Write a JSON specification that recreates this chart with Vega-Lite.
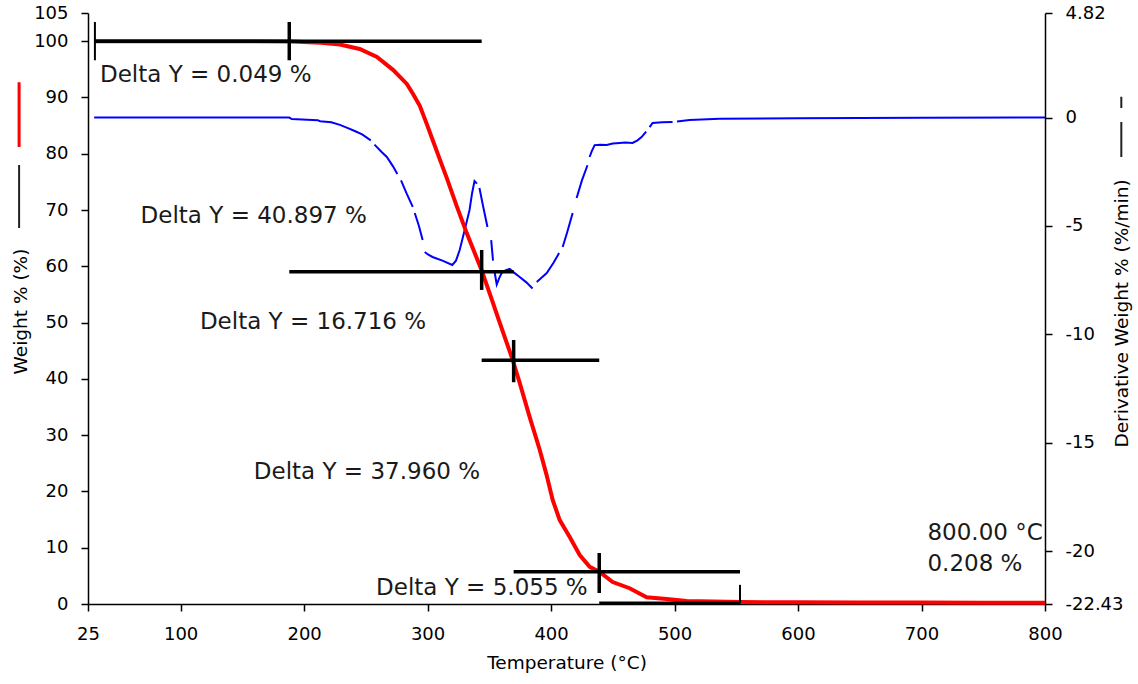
{
  "$schema": "https://vega.github.io/schema/vega-lite/v6.json",
  "width": 957,
  "height": 591,
  "autosize": {"type": "none"},
  "padding": {"left": 88, "top": 13, "right": 93, "bottom": 80},
  "background": "#ffffff",
  "config": {
    "view": {"stroke": null},
    "font": "DejaVu Sans",
    "axis": {
      "grid": false,
      "domainColor": "#000000",
      "domainWidth": 1.5,
      "tickColor": "#000000",
      "tickWidth": 1.5,
      "tickSize": 7,
      "labelColor": "#000000",
      "labelFont": "DejaVu Sans",
      "labelFontSize": 18,
      "labelFlush": false,
      "labelOverlap": false,
      "labelPadding": 13,
      "titleColor": "#000000",
      "titleFont": "DejaVu Sans",
      "titleFontSize": 18.5,
      "titleFontWeight": "normal"
    }
  },
  "datasets": {
    "weight": [
      {"t": 30, "w": 100}, {"t": 100, "w": 100}, {"t": 160, "w": 100}, {"t": 190, "w": 99.95},
      {"t": 214, "w": 99.7}, {"t": 229, "w": 99.4}, {"t": 245, "w": 98.6}, {"t": 259, "w": 97.2},
      {"t": 272, "w": 94.9}, {"t": 283.2, "w": 92.4}, {"t": 288, "w": 90.7}, {"t": 293.7, "w": 88.5},
      {"t": 299.3, "w": 85.3}, {"t": 304.2, "w": 82.4}, {"t": 309.9, "w": 79.0}, {"t": 315.5, "w": 75.7},
      {"t": 323.6, "w": 70.7}, {"t": 331.7, "w": 65.9}, {"t": 343.6, "w": 59.4}, {"t": 352.8, "w": 53.6},
      {"t": 356.8, "w": 51.0}, {"t": 364.1, "w": 46.4}, {"t": 369, "w": 43.3}, {"t": 374.6, "w": 39.3},
      {"t": 382.7, "w": 33.2}, {"t": 390.8, "w": 27.4}, {"t": 396.4, "w": 22.9}, {"t": 401.3, "w": 18.5},
      {"t": 407, "w": 14.9}, {"t": 415.1, "w": 11.9}, {"t": 423.2, "w": 8.7}, {"t": 431.3, "w": 6.6},
      {"t": 439.3, "w": 5.7}, {"t": 449.9, "w": 3.9}, {"t": 463.6, "w": 2.8}, {"t": 477.4, "w": 1.2},
      {"t": 493.6, "w": 0.9}, {"t": 509.8, "w": 0.53}, {"t": 552.6, "w": 0.35}, {"t": 600, "w": 0.3},
      {"t": 650, "w": 0.27}, {"t": 700, "w": 0.25}, {"t": 750, "w": 0.22}, {"t": 800, "w": 0.208}
    ],
    "derivative": [
      {"t": 30, "d": 0}, {"t": 100, "d": 0}, {"t": 188, "d": 0}, {"t": 190, "d": -0.07},
      {"t": 211, "d": -0.12}, {"t": 213, "d": -0.17}, {"t": 222, "d": -0.22}, {"t": 229, "d": -0.34},
      {"t": 235, "d": -0.48}, {"t": 241, "d": -0.62}, {"t": 247, "d": -0.78}, {"t": 254, "d": -1.05},
      {"t": 255.5, "d": null},
      {"t": 257, "d": -1.25}, {"t": 263, "d": -1.6}, {"t": 267, "d": -1.82}, {"t": 272, "d": -2.25}, {"t": 275.5, "d": -2.6},
      {"t": 277, "d": null},
      {"t": 278.5, "d": -2.9}, {"t": 283, "d": -3.5}, {"t": 288, "d": -4.12},
      {"t": 288.8, "d": null},
      {"t": 289.6, "d": -4.4}, {"t": 293, "d": -5.0}, {"t": 296, "d": -5.65},
      {"t": 296.9, "d": null},
      {"t": 297.7, "d": -6.2}, {"t": 300, "d": -6.3}, {"t": 304, "d": -6.43}, {"t": 312, "d": -6.6},
      {"t": 320, "d": -6.8}, {"t": 323, "d": -6.6}, {"t": 326, "d": -6.11}, {"t": 330, "d": -5.2},
      {"t": 334, "d": -4.26}, {"t": 336, "d": -3.5}, {"t": 338, "d": -2.93}, {"t": 340, "d": -3.05},
      {"t": 341, "d": null},
      {"t": 342, "d": -3.25}, {"t": 345, "d": -4.1}, {"t": 348.5, "d": -5.05},
      {"t": 350, "d": null},
      {"t": 351.5, "d": -5.65}, {"t": 353, "d": -6.6},
      {"t": 353.7, "d": null},
      {"t": 354.4, "d": -7.17}, {"t": 356, "d": -7.7}, {"t": 358, "d": -7.4}, {"t": 360, "d": -7.17},
      {"t": 363, "d": -7.05}, {"t": 366.5, "d": -6.98}, {"t": 370, "d": -7.15}, {"t": 374.6, "d": -7.35},
      {"t": 380, "d": -7.6}, {"t": 385, "d": -7.88},
      {"t": 386.7, "d": null},
      {"t": 388.4, "d": -7.58}, {"t": 392, "d": -7.4}, {"t": 396.5, "d": -7.17}, {"t": 402, "d": -6.7}, {"t": 406.5, "d": -6.25},
      {"t": 407.8, "d": null},
      {"t": 409.4, "d": -5.97}, {"t": 413, "d": -5.3}, {"t": 417.5, "d": -4.4},
      {"t": 419, "d": null},
      {"t": 420.7, "d": -3.71}, {"t": 425, "d": -2.9}, {"t": 429.5, "d": -2.2},
      {"t": 430.4, "d": null},
      {"t": 431.2, "d": -1.82}, {"t": 433, "d": -1.55}, {"t": 435.3, "d": -1.27}, {"t": 440, "d": -1.25},
      {"t": 445, "d": -1.27}, {"t": 450, "d": -1.2}, {"t": 455.5, "d": -1.17}, {"t": 460, "d": -1.15},
      {"t": 466, "d": -1.17}, {"t": 470, "d": -1.05}, {"t": 473.3, "d": -0.9}, {"t": 477, "d": -0.65},
      {"t": 478.3, "d": null},
      {"t": 479.8, "d": -0.44}, {"t": 482.2, "d": -0.25}, {"t": 490, "d": -0.22}, {"t": 498.4, "d": -0.21},
      {"t": 500, "d": null},
      {"t": 502, "d": -0.18}, {"t": 512.2, "d": -0.11}, {"t": 536.5, "d": -0.06}, {"t": 600, "d": -0.03},
      {"t": 700, "d": -0.01}, {"t": 800, "d": 0}
    ],
    "steps": [
      {"t1": 30.6, "t2": 343.8, "w": 100},
      {"t1": 188, "t2": 369.7, "w": 59.05},
      {"t1": 343.8, "t2": 439, "w": 43.3},
      {"t1": 369.7, "t2": 553, "w": 5.74},
      {"t1": 439, "t2": 553, "w": 0.15}
    ],
    "crosses": [
      {"t": 188, "w1": 103.4, "w2": 96.6},
      {"t": 343.8, "w1": 62.9, "w2": 55.8},
      {"t": 369.7, "w1": 46.9, "w2": 39.4},
      {"t": 439, "w1": 9.06, "w2": 1.95}
    ],
    "limits": [
      {"t": 30.6, "w1": 103.4, "w2": 96.6},
      {"t": 553, "w1": 3.4, "w2": 0.15}
    ],
    "notes": [
      {"t": 34.7, "w": 92.7, "label": "Delta Y = 0.049 %"},
      {"t": 67.6, "w": 67.7, "label": "Delta Y = 40.897 %"},
      {"t": 115.6, "w": 48.85, "label": "Delta Y = 16.716 %"},
      {"t": 159.3, "w": 22.2, "label": "Delta Y = 37.960 %"},
      {"t": 258.3, "w": 1.6, "label": "Delta Y = 5.055 %"},
      {"t": 704.8, "w": 11.37, "label": "800.00 °C"},
      {"t": 704.8, "w": 5.86, "label": "0.208 %"}
    ]
  },
  "layer": [
    {
      "data": {"name": "derivative"},
      "mark": {"type": "line", "color": "#0000ff", "strokeWidth": 2, "invalid": "break-paths-show-domains"},
      "encoding": {
        "x": {
          "field": "t",
          "type": "quantitative",
          "scale": {"domain": [25, 800], "nice": false, "zero": false},
          "axis": {
            "values": [25, 100, 200, 300, 400, 500, 600, 700, 800],
            "labelPadding": 14,
            "title": "Temperature (°C)",
            "titleX": 478.5,
            "titleY": 58,
            "titleAlign": "center",
            "titleBaseline": "middle"
          }
        },
        "y": {
          "field": "d",
          "type": "quantitative",
          "scale": {"domain": [-22.43, 4.82], "nice": false, "zero": false},
          "axis": {
            "orient": "right",
            "values": [4.82, 0, -5, -10, -15, -20, -22.43],
            "labelExpr": "datum.value + ''",
            "title": "Derivative Weight % (%/min)",
            "titleAngle": 270,
            "titleX": 76,
            "titleY": 300,
            "titleAlign": "center",
            "titleBaseline": "middle"
          }
        }
      }
    },
    {
      "layer": [
        {
          "data": {"name": "weight"},
          "mark": {"type": "line", "color": "#ff0000", "strokeWidth": 4},
          "encoding": {
            "x": {"field": "t", "type": "quantitative", "scale": {"domain": [25, 800], "nice": false, "zero": false}},
            "y": {
              "field": "w",
              "type": "quantitative",
              "scale": {"domain": [0, 105], "nice": false, "zero": false},
              "axis": {
                "orient": "left",
                "values": [0, 10, 20, 30, 40, 50, 60, 70, 80, 90, 100, 105],
                "title": "Weight % (%)",
                "titleAngle": 270,
                "titleX": -68,
                "titleY": 298,
                "titleAlign": "center",
                "titleBaseline": "middle"
              }
            }
          }
        },
        {
          "data": {"name": "steps"},
          "mark": {"type": "rule", "color": "#000000", "strokeWidth": 3.5},
          "encoding": {
            "x": {"field": "t1", "type": "quantitative", "scale": {"domain": [25, 800], "nice": false, "zero": false}},
            "x2": {"field": "t2"},
            "y": {"field": "w", "type": "quantitative", "scale": {"domain": [0, 105], "nice": false, "zero": false}}
          }
        },
        {
          "data": {"name": "crosses"},
          "mark": {"type": "rule", "color": "#000000", "strokeWidth": 3.5},
          "encoding": {
            "x": {"field": "t", "type": "quantitative", "scale": {"domain": [25, 800], "nice": false, "zero": false}},
            "y": {"field": "w1", "type": "quantitative", "scale": {"domain": [0, 105], "nice": false, "zero": false}},
            "y2": {"field": "w2"}
          }
        },
        {
          "data": {"name": "limits"},
          "mark": {"type": "rule", "color": "#000000", "strokeWidth": 2},
          "encoding": {
            "x": {"field": "t", "type": "quantitative", "scale": {"domain": [25, 800], "nice": false, "zero": false}},
            "y": {"field": "w1", "type": "quantitative", "scale": {"domain": [0, 105], "nice": false, "zero": false}},
            "y2": {"field": "w2"}
          }
        },
        {
          "data": {"name": "notes"},
          "mark": {"type": "text", "align": "left", "baseline": "alphabetic", "font": "DejaVu Sans", "fontSize": 23, "color": "#1a1a1a"},
          "encoding": {
            "x": {"field": "t", "type": "quantitative", "scale": {"domain": [25, 800], "nice": false, "zero": false}},
            "y": {"field": "w", "type": "quantitative", "scale": {"domain": [0, 105], "nice": false, "zero": false}},
            "text": {"field": "label"}
          }
        },
        {
          "data": {"values": [{}]},
          "mark": {"type": "rule", "color": "#ff0000", "strokeWidth": 3},
          "encoding": {
            "x": {"datum": -30.8, "type": "quantitative"},
            "y": {"datum": 92.7, "type": "quantitative"},
            "y2": {"datum": 81.2}
          }
        },
        {
          "data": {"values": [{}]},
          "mark": {"type": "rule", "color": "#222222", "strokeWidth": 2},
          "encoding": {
            "x": {"datum": -30.8, "type": "quantitative"},
            "y": {"datum": 78.0, "type": "quantitative"},
            "y2": {"datum": 66.8}
          }
        },
        {
          "data": {"values": [{}]},
          "mark": {"type": "rule", "color": "#222222", "strokeWidth": 2, "strokeDash": [35, 14]},
          "encoding": {
            "x": {"datum": 861.8, "type": "quantitative"},
            "y": {"datum": 79.4, "type": "quantitative"},
            "y2": {"datum": 90.1}
          }
        }
      ]
    }
  ],
  "resolve": {"scale": {"y": "independent"}}
}
